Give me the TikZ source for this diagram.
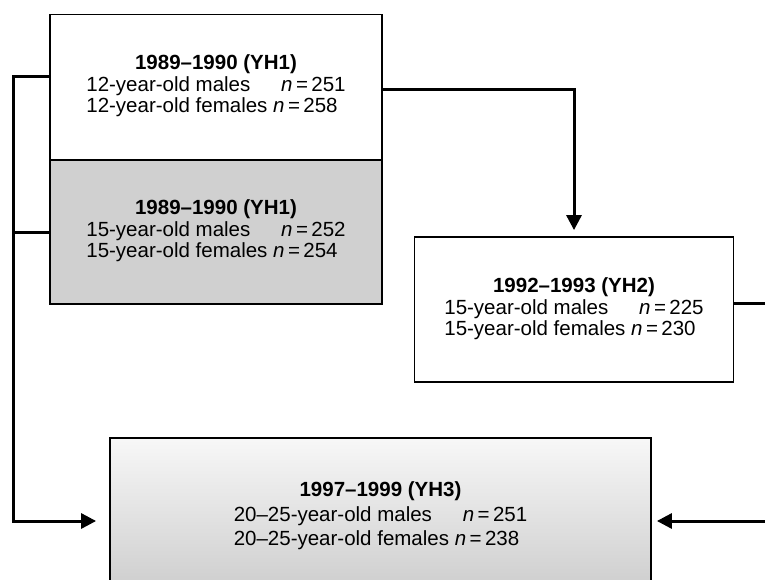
\documentclass[tikz,border=0pt]{standalone}
\usepackage{fontspec}
\setmainfont{Liberation Sans}
\usetikzlibrary{arrows.meta,positioning}
\definecolor{boxgray}{RGB}{208,208,208}
\tikzset{
  cohortbox/.style={draw=black, line width=1.8pt, minimum width=332pt, minimum height=145pt,
    align=center, inner sep=0pt, font=\fontsize{20.5}{21}\selectfont},
  conn/.style={line width=3pt},
  connarrow/.style={conn, -{Triangle[length=15pt,width=15pt]}}
}
\begin{document}
\begin{tikzpicture}[x=1pt, y=-1pt]
        \useasboundingbox (0,0) rectangle (765,580);
        \clip (0,0) rectangle (765,580);
        % Boxes (top left to bottom)
        \node (yh1a) at (216,87) [cohortbox, fill=white] {\textbf{1989–1990 (YH1)}\\[2pt]
          \begin{tabular}{@{}l@{\ }l@{}}12-year-old males & \hspace{8pt}\textit{n}\,=\,251\\ 12-year-old females & \textit{n}\,=\,258\end{tabular}};
        \node (yh1b) at (216,232) [cohortbox, fill=boxgray, minimum height=144pt] {\textbf{1989–1990 (YH1)}\\[2pt]
          \begin{tabular}{@{}l@{\ }l@{}}15-year-old males & \hspace{8pt}\textit{n}\,=\,252\\ 15-year-old females & \textit{n}\,=\,254\end{tabular}};
        \node (yh2) at (574,309.5) [cohortbox, fill=white, minimum width=319pt] {\textbf{1992–1993 (YH2)}\\[2pt]
          \begin{tabular}{@{}l@{\ }l@{}}15-year-old males & \hspace{8pt}\textit{n}\,=\,225\\ 15-year-old females & \textit{n}\,=\,230\end{tabular}};
        \node (yh3) at (380.5,517) [cohortbox, minimum width=541pt, minimum height=158pt,
          top color=gray!6, bottom color=gray!40,
          font=\fontsize{20.5}{23.5}\selectfont] {\textbf{1997–1999 (YH3)}\\[3pt]
          \begin{tabular}{@{}l@{\ }l@{}}20–25-year-old males & \hspace{8pt}\textit{n}\,=\,251\\ 20–25-year-old females & \textit{n}\,=\,238\end{tabular}};
        % Connectors
        \coordinate (lft) at (13,0);
        \coordinate (rgt) at (800,0);
        \draw[connarrow] ([yshift=10pt]yh1a.west) -| ([yshift=-4pt]lft |- yh3.west) -- ([xshift=-13pt,yshift=-4pt]yh3.west);
        \draw[conn] (yh1b.west) -- (yh1b.west -| lft);
        \draw[connarrow] ([yshift=-3pt]yh1a.east) -| ([yshift=6pt]yh2.north);
        \draw[connarrow] ([yshift=6pt]yh2.east) -| ([yshift=-4pt]rgt |- yh3.east) -- ([xshift=5pt,yshift=-4pt]yh3.east);
      \end{tikzpicture}
\end{document}
